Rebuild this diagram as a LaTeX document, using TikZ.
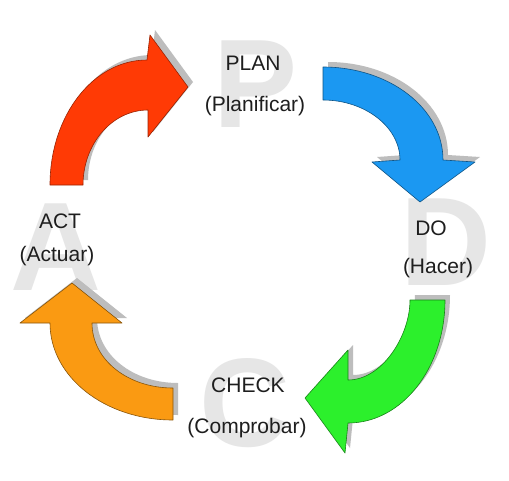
\documentclass[tikz,border=0pt]{standalone}
\usepackage{fontspec}
\setmainfont{Liberation Sans}
\definecolor{pdcared}{HTML}{FF3A05}
\definecolor{pdcablue}{HTML}{1B98F2}
\definecolor{pdcagreen}{HTML}{2CF02C}
\definecolor{pdcaorange}{HTML}{FA9A12}
\definecolor{pdcashadow}{HTML}{BDBDBD}
\definecolor{pdcaletter}{HTML}{E6E6E6}
\definecolor{pdcatext}{HTML}{1E1E1E}
\newcommand\cyclearrow[3]{%
  \fill[pdcashadow,shift={(5,-5)}] #3;
  \filldraw[fill=#1,draw=#2,line width=0.6pt,line join=round] #3;}
\begin{document}
\begin{tikzpicture}[x=1pt,y=-1pt,
  bigletter/.style={text=pdcaletter,font=\fontsize{126}{126}\selectfont\bfseries,inner sep=0pt,anchor=base},
  label/.style={text=pdcatext,font=\fontsize{21}{21}\selectfont,inner sep=0pt,anchor=base}]
\fill[white] (0,0) rectangle (509,480);
\path[use as bounding box] (0,0) rectangle (509,480);
% big background letters
\node[bigletter] (bigP) at (256,127) {P};
\node[bigletter] (bigD) at (446,285) {D};
\node[bigletter] (bigC) at (245,446) {C};
\node[bigletter] (bigA) at (56,290) {A};
% arrows
\cyclearrow{pdcared}{pdcared!60!black}{(50,185) .. controls (50,116) and (93,60) .. (147,60) -- (150,35) -- (188,87) -- (148,137) -- (148,110) .. controls (112,110) and (83,144) .. (83,185) -- cycle}
\cyclearrow{pdcablue}{pdcablue!55!black}{(323,67) .. controls (389,67) and (443,108) .. (443,160) -- (475,162) -- (420,202) -- (372,162) -- (400,160) .. controls (400,127) and (365,100) .. (323,100) -- cycle}
\cyclearrow{pdcagreen}{pdcagreen!55!black}{(410,300) -- (445,300) .. controls (445,368) and (402,423) .. (348,423) -- (345,453) -- (305,398) -- (348,350) -- (348,380) .. controls (382,380) and (410,336) .. (410,300) -- cycle}
\cyclearrow{pdcaorange}{pdcaorange!55!black}{(173,388) -- (173,420) .. controls (105,420) and (50,377) .. (50,323) -- (20,323) -- (72,283) -- (122,323) -- (92,323) .. controls (92,360) and (128,388) .. (173,388) -- cycle}
% labels
\node[label] (plan) at (253,70) {PLAN};
\node[label] (plansub) at (255,111) {(Planificar)};
\node[label] (do) at (431,235) {DO};
\node[label] (dosub) at (438,273) {(Hacer)};
\node[label] (check) at (248,392) {CHECK};
\node[label] (checksub) at (247,433) {(Comprobar)};
\node[label] (act) at (60,228) {ACT};
\node[label] (actsub) at (57,261) {(Actuar)};
\end{tikzpicture}
\end{document}
